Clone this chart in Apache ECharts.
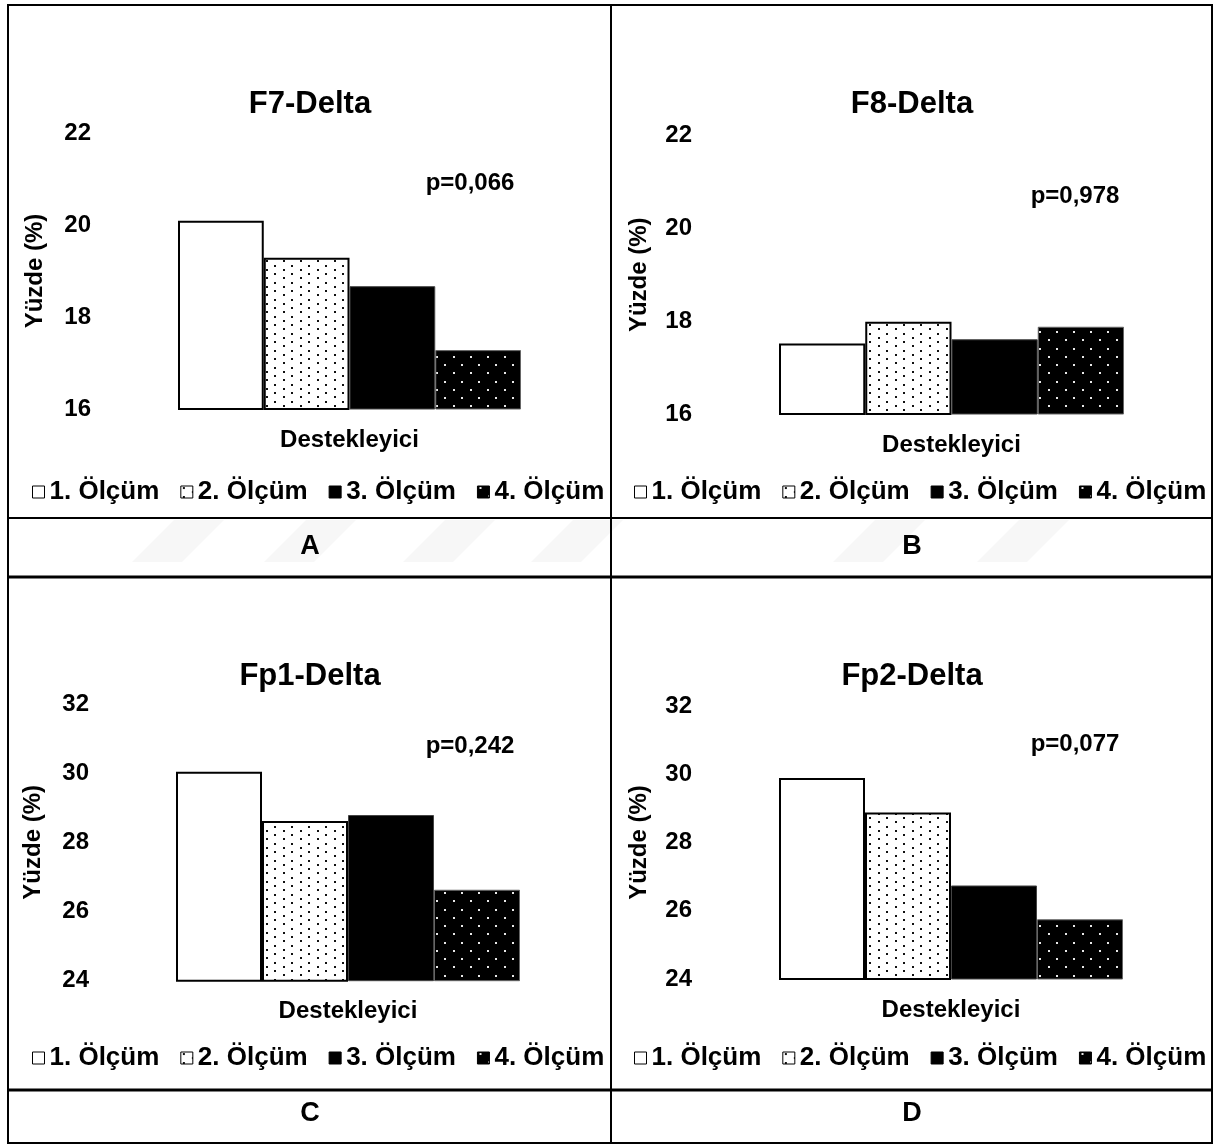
<!DOCTYPE html>
<html>
<head>
<meta charset="utf-8">
<script src="https://cdn.jsdelivr.net/npm/echarts@6/dist/echarts.min.js"></script>
<style>
html,body{margin:0;padding:0;background:#fff;}
#chart{width:1216px;height:1147px;}
</style>
</head>
<body>
<div id="chart"></div>
<script>
// ---- data ----
const categories = ['Destekleyici'];
const seriesNames = ['1. Ölçüm', '2. Ölçüm', '3. Ölçüm', '4. Ölçüm'];
const f7Delta = [20.09, 19.29, 18.67, 17.28];
const f8Delta = [17.52, 17.99, 17.61, 17.88];
const fp1Delta = [30.04, 28.62, 28.79, 26.63];
const fp2Delta = [29.89, 28.88, 26.74, 25.75];
const topAxisRange = [16, 22];
const bottomAxisRange = [24, 32];
const axisStep = 2;
const panelTitles = ['F7-Delta', 'F8-Delta', 'Fp1-Delta', 'Fp2-Delta'];
const pValues = ['p=0,066', 'p=0,978', 'p=0,242', 'p=0,077'];
const panelLetters = ['A', 'B', 'C', 'D'];
const yAxisName = 'Yüzde (%)';

// ---- layout / style ----
const FONT = '"Liberation Sans", Arial, sans-serif';
const panelData = [f7Delta, f8Delta, fp1Delta, fp2Delta];
const panelRanges = [topAxisRange, topAxisRange, bottomAxisRange, bottomAxisRange];
const grids = [
  {left: 178, top: 133, width: 343, height: 276},
  {left: 779, top: 135.5, width: 345, height: 278.5},
  {left: 176, top: 704, width: 344, height: 276.7},
  {left: 779, top: 706, width: 344, height: 273}
];
const nameGaps = [131, 128, 131, 128];
const legendPos = [{left: 32, top: 479}, {left: 634, top: 479}, {left: 32, top: 1045}, {left: 634, top: 1045}];
const titlePos = [[310, 104], [912, 104], [310, 676], [912, 676]];
const pPos = [[470, 183], [1075, 196], [470, 746], [1075, 744]];
const letterPos = [[310, 547], [912, 547], [310, 1114], [912, 1114]];
const watermarkBottoms = [132, 264, 403, 531, 833, 977];

function makePattern(w, h, bg, dot, cols, rows, dx, dy) {
  const c = document.createElement('canvas');
  c.width = w; c.height = h;
  const ctx = c.getContext('2d');
  ctx.fillStyle = bg; ctx.fillRect(0, 0, w, h);
  ctx.fillStyle = dot;
  for (let r = 0; r < rows; r++) {
    for (let k = 0; k < cols; k++) {
      if ((r + k) % 2 === 0) {
        ctx.fillRect(Math.round(2 + k * dx), Math.round(1 + r * dy), 2, 2);
      }
    }
  }
  return c;
}
const pat2 = makePattern(34, 17, '#ffffff', '#111111', 4, 4, 8.5, 4.25);
const pat4 = makePattern(34, 33, '#000000', '#e8e8e8', 4, 4, 8.5, 8.25);

const seriesStyles = [
  {color: '#ffffff', borderColor: '#000000', borderWidth: 2},
  {color: {image: pat2, repeat: 'repeat'}, borderColor: '#000000', borderWidth: 2},
  {color: '#000000', borderColor: '#444444', borderWidth: 1},
  {color: {image: pat4, repeat: 'repeat'}, borderColor: '#666666', borderWidth: 1}
];

const option = {
  animation: false,
  backgroundColor: '#ffffff',
  grid: grids.map(g => Object.assign({containLabel: false}, g)),
  xAxis: grids.map((g, i) => ({
    type: 'category', gridIndex: i, data: categories,
    axisLine: {show: false}, axisTick: {show: false},
    axisLabel: {margin: 19, color: '#000', fontFamily: FONT, fontWeight: 'bold', fontSize: 24}
  })),
  yAxis: grids.map((g, i) => ({
    type: 'value', gridIndex: i, min: panelRanges[i][0], max: panelRanges[i][1], interval: axisStep,
    axisLine: {show: false}, axisTick: {show: false}, splitLine: {show: false},
    axisLabel: {margin: 87, color: '#000', fontFamily: FONT, fontWeight: 'bold', fontSize: 24},
    name: yAxisName, nameLocation: 'middle', nameGap: nameGaps[i],
    nameTextStyle: {color: '#000', fontFamily: FONT, fontWeight: 'bold', fontSize: 24}
  })),
  legend: legendPos.map(p => ({
    left: p.left, top: p.top, orient: 'horizontal', padding: 0,
    icon: 'rect', itemWidth: 12, itemHeight: 12, itemGap: 21, selectedMode: false,
    data: seriesNames,
    itemStyle: {borderColor: '#000', borderWidth: 1},
    textStyle: {color: '#000', fontFamily: FONT, fontWeight: 'bold', fontSize: 26}
  })),
  series: [],
  graphic: []
};

panelData.forEach((vals, i) => {
  seriesNames.forEach((name, s) => {
    option.series.push({
      type: 'bar', name: name, xAxisIndex: i, yAxisIndex: i,
      barGap: '0%', barCategoryGap: '0%',
      data: [vals[s]],
      itemStyle: seriesStyles[s]
    });
  });
});

// faint watermark stripes
watermarkBottoms.forEach(x0 => option.graphic.push({
  type: 'polygon', silent: true, z: -10,
  shape: {points: [[x0, 562], [x0 + 50, 562], [x0 + 92, 520], [x0 + 42, 520]]},
  style: {fill: '#f7f7f7'}
}));

// border lines
const lineStyle = (w) => ({stroke: '#000', lineWidth: w});
const lines = [
  [8, 5, 1212, 5, 2], [8, 518, 1212, 518, 2], [8, 577, 1212, 577, 3],
  [8, 1090, 1212, 1090, 3], [8, 1143, 1212, 1143, 2],
  [8, 4, 8, 1144, 2], [611, 4, 611, 1144, 2], [1212, 4, 1212, 1144, 2]
];
lines.forEach(l => option.graphic.push({
  type: 'line', silent: true, z: 100,
  shape: {x1: l[0], y1: l[1], x2: l[2], y2: l[3]}, style: lineStyle(l[4])
}));

function addText(txt, pos, size) {
  option.graphic.push({
    type: 'text', silent: true, z: 101,
    style: {text: txt, x: pos[0], y: pos[1], fill: '#000',
      font: 'bold ' + size + 'px ' + FONT,
      align: 'center', verticalAlign: 'middle',
      textAlign: 'center', textVerticalAlign: 'middle'}
  });
}
panelTitles.forEach((t, i) => addText(t, titlePos[i], 31));
pValues.forEach((t, i) => addText(t, pPos[i], 24));
panelLetters.forEach((t, i) => addText(t, letterPos[i], 27));

const chart = echarts.init(document.getElementById('chart'), null, {renderer: 'canvas'});
chart.setOption(option);
</script>
</body>
</html>
